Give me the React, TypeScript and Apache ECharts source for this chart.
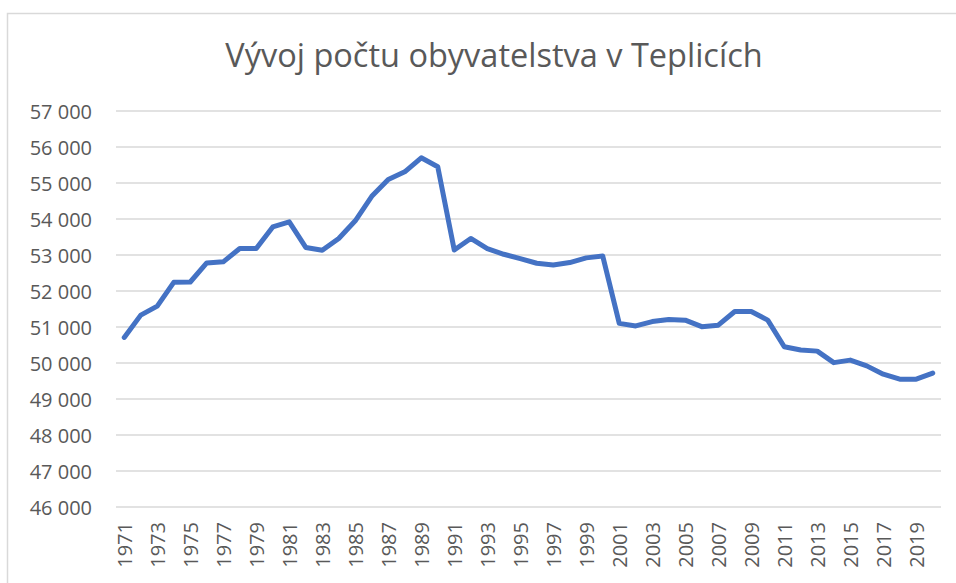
import React, { useEffect, useRef } from "react";
import * as echarts from "echarts";

const years: string[] = [];
for (let y = 1971; y <= 2020; y++) years.push(String(y));

const population: number[] = [
  50710, 51330, 51580, 52240, 52250, 52780, 52810, 53180, 53180, 53780,
  53920, 53210, 53130, 53460, 53950, 54630, 55100, 55310, 55700, 55450,
  53140, 53460, 53180, 53020, 52900, 52770, 52720, 52790, 52920, 52970,
  51100, 51030, 51150, 51210, 51190, 51010, 51050, 51430, 51430, 51190,
  50450, 50360, 50330, 50010, 50080, 49920, 49690, 49550, 49550, 49720,
];

const titleText = "Vývoj počtu obyvatelstva v Teplicích";

export default function App() {
  const ref = useRef<HTMLDivElement>(null);
  useEffect(() => {
    if (!ref.current) return;
    const chart = echarts.init(ref.current, null, { renderer: "svg" });
    chart.setOption({
      animation: false,
      backgroundColor: "#ffffff",
      textStyle: { fontFamily: "Open Sans" },
      title: {
        text: titleText,
        left: 489,
        textAlign: "center",
        top: 33,
        textStyle: {
          fontFamily: "Open Sans",
          fontSize: 32.5,
          fontWeight: "normal",
          color: "#595959",
        },
      },
      graphic: [
        {
          type: "rect",
          left: 5,
          top: 11,
          shape: { x: 0, y: 0, width: 1000, height: 1000 },
          style: { fill: "none", stroke: "#d9d9d9", lineWidth: 1.5 },
          silent: true,
        },
      ],
      grid: { left: 116, right: 15, top: 111, bottom: 76 },
      xAxis: {
        type: "category",
        data: years,
        boundaryGap: true,
        axisLine: { show: false },
        axisTick: { show: false },
        axisLabel: {
          interval: 1,
          rotate: 90,
          fontSize: 20,
          color: "#595959",
          margin: 15,
          fontFamily: "Open Sans",
        },
      },
      yAxis: {
        type: "value",
        min: 46000,
        max: 57000,
        interval: 1000,
        axisLine: { show: false },
        axisTick: { show: false },
        splitLine: { lineStyle: { color: "#d9d9d9", width: 1.5 } },
        axisLabel: {
          fontSize: 20,
          color: "#595959",
          margin: 24,
          fontFamily: "Open Sans",
          formatter: (v: number) => {
            const s = String(Math.round(v));
            return s.slice(0, s.length - 3) + " " + s.slice(s.length - 3);
          },
        },
      },
      series: [
        {
          type: "line",
          data: population,
          symbol: "none",
          lineStyle: { color: "#4472C4", width: 5, cap: "round", join: "round" },
        },
      ],
    });
    return () => chart.dispose();
  }, []);
  return (
    <div
      ref={ref}
      style={{ position: "absolute", left: 0, top: 0, width: 956, height: 583 }}
    />
  );
}
